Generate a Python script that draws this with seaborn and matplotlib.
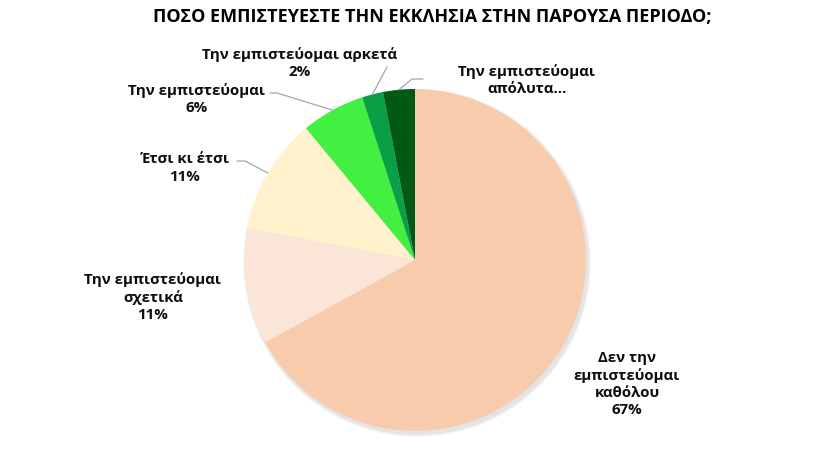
import matplotlib
matplotlib.use("Agg")
import matplotlib.pyplot as plt
import numpy as np
import seaborn as sns

# data
categories = [
    "Δεν την\nεμπιστεύομαι\nκαθόλου",
    "Την εμπιστεύομαι\nσχετικά",
    "Έτσι κι έτσι",
    "Την εμπιστεύομαι",
    "Την εμπιστεύομαι αρκετά",
    "Την εμπιστεύομαι\nαπόλυτα…",
]
shares = [67, 11, 11, 6, 2, 3]
show_pct = [True, True, True, True, True, False]
slice_colors = ["#F8CBAD", "#FBE5D6", "#FFF2CC", "#42F042", "#0A9E46", "#005A16"]
title = "ΠΟΣΟ ΕΜΠΙΣΤΕΥΕΣΤΕ ΤΗΝ ΕΚΚΛΗΣΙΑ ΣΤΗΝ ΠΑΡΟΥΣΑ ΠΕΡΙΟΔΟ;"

sns.set_theme(style="white")
plt.rcParams["font.family"] = ["Open Sans", "DejaVu Sans"]

W, H = 835, 475
fig = plt.figure(figsize=(W / 100, H / 100), dpi=100)
ax = fig.add_axes([0, 0, 1, 1])

cx, cy, r = 415, H - 260, 171

# soft shadow behind the pie
for k, a in enumerate([0.09, 0.07, 0.05]):
    ax.add_patch(plt.Circle((cx + 2, cy - 3), r + 1 + k, color="#7f7f7f", alpha=a, lw=0, zorder=0))

wedges, _ = ax.pie(
    shares,
    colors=sns.color_palette(slice_colors),
    startangle=90,
    counterclock=False,
    center=(cx, cy),
    radius=r,
    wedgeprops=dict(linewidth=0),
    frame=True,
)
ax.set_xlim(0, W)
ax.set_ylim(0, H)
ax.set_aspect("equal")
ax.axis("off")

# label anchor positions (pixels, y from top) and leader elbows
label_pos = [(627, 384), (153, 297), (185, 168), (197, 99), (300, 63), (527, 80)]
leaders = [None, None, [(237, 161), (245, 161)], [(270, 93), (277, 93)], [(387, 67)], [(423, 79), (412, 79)]]

txt_kw = dict(ha="center", va="center", fontsize=10.8, fontweight="bold", color="#0d0d0d", linespacing=1.3)
for w, lab, val, show, pos, lead in zip(wedges, categories, shares, show_pct, label_pos, leaders):
    text = f"{lab}\n{val}%" if show else lab
    ax.text(pos[0], H - pos[1], text, **txt_kw)
    if lead:
        mid = np.deg2rad((w.theta1 + w.theta2) / 2)
        xs = [p[0] for p in lead] + [cx + r * np.cos(mid)]
        ys = [H - p[1] for p in lead] + [cy + r * np.sin(mid)]
        ax.plot(xs, ys, color="#a6a6a6", lw=0.9, zorder=3)

ax.text(432, H - 17, title, ha="center", va="center", fontsize=13, fontweight="bold", color="#000000")

fig.savefig("out.png", dpi=100)
